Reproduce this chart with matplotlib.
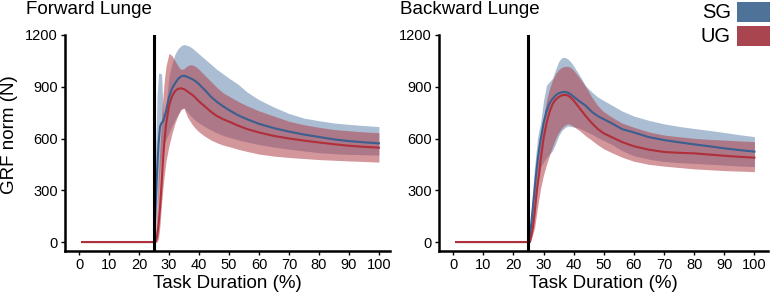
import matplotlib
matplotlib.use("Agg")
import matplotlib.pyplot as plt
from matplotlib.patches import Rectangle

plt.rcParams['font.family'] = ['Liberation Sans', 'DejaVu Sans']

# ---------------- data ----------------
x = [1, 25, 25.5, 26, 26.5, 27, 27.5, 28, 28.5, 29, 30, 31, 32, 33, 34, 35, 36, 37, 38, 39, 40,
     42, 44, 46, 48, 50, 53, 56, 60, 65, 70, 75, 80, 85, 90, 95, 100]

# Forward lunge
fwd_sg_mean = [0, 0, 200, 400, 570, 670, 690, 700, 725, 760, 840, 890, 920, 945, 960, 964, 958, 950, 942, 930, 915,
               880, 842, 812, 787, 765, 735, 712, 685, 660, 640, 623, 609, 595, 585, 578, 572]
fwd_sg_upper = [0, 0, 500, 850, 978, 978, 975, 760, 710, 800, 960, 1035, 1090, 1120, 1138, 1145, 1140, 1133, 1120, 1105, 1090,
                1060, 1030, 1000, 975, 950, 915, 870, 825, 782, 745, 718, 703, 690, 682, 675, 669]
fwd_sg_lower = [0, 0, 80, 200, 320, 430, 500, 550, 575, 595, 635, 675, 710, 740, 770, 780, 755, 735, 717, 703, 690,
                668, 649, 632, 618, 607, 592, 580, 565, 550, 538, 528, 518, 512, 508, 506, 504]
fwd_ug_mean = [0, 0, 0, 30, 100, 200, 330, 480, 590, 680, 790, 845, 875, 888, 891, 886, 875, 862, 850, 833, 815,
               785, 755, 730, 712, 698, 675, 655, 635, 615, 600, 588, 577, 567, 558, 552, 547]
fwd_ug_upper = [0, 0, 50, 200, 400, 560, 720, 850, 950, 1020, 1094, 1080, 1050, 1020, 1000, 1005, 1020, 1028, 1025, 1015, 1000,
                965, 930, 895, 865, 845, 815, 790, 760, 730, 700, 680, 665, 652, 645, 638, 634]
fwd_ug_lower = [0, 0, 0, 0, 20, 100, 220, 320, 400, 470, 560, 630, 690, 735, 768, 775, 730, 700, 675, 655, 638,
                612, 591, 575, 562, 553, 538, 525, 510, 498, 490, 484, 478, 474, 470, 467, 463]

# Backward lunge
bwd_sg_mean = [0, 0, 30, 120, 210, 300, 390, 470, 535, 591, 690, 760, 805, 830, 850, 862, 868, 870, 866, 856, 842,
               815, 790, 755, 730, 712, 685, 655, 635, 608, 591, 578, 566, 555, 543, 533, 524]
bwd_sg_upper = [0, 0, 80, 200, 320, 430, 520, 600, 650, 688, 820, 910, 930, 950, 1000, 1045, 1068, 1071, 1062, 1045, 1020,
                965, 905, 870, 840, 820, 790, 760, 730, 705, 685, 670, 658, 647, 635, 622, 611]
bwd_sg_lower = [0, 0, 10, 50, 110, 180, 250, 320, 380, 430, 465, 490, 510, 530, 570, 615, 645, 662, 672, 670, 666,
                659, 642, 625, 605, 588, 562, 530, 500, 480, 467, 460, 456, 451, 446, 441, 437]
bwd_ug_mean = [0, 0, 0, 40, 90, 160, 250, 330, 390, 470, 600, 690, 755, 800, 825, 840, 850, 853, 850, 838, 820,
               775, 730, 690, 655, 630, 605, 580, 555, 535, 522, 517, 514, 507, 500, 494, 489]
bwd_ug_upper = [0, 0, 40, 140, 240, 330, 420, 500, 550, 591, 720, 823, 890, 940, 975, 998, 1012, 1018, 1018, 1012, 995,
                950, 900, 840, 790, 755, 720, 690, 665, 638, 620, 610, 601, 595, 591, 586, 582]
bwd_ug_lower = [0, 0, 0, 20, 50, 80, 140, 200, 255, 310, 390, 450, 505, 555, 600, 635, 660, 677, 686, 680, 670,
                645, 615, 590, 563, 540, 515, 492, 468, 450, 440, 432, 424, 419, 414, 411, 408]

titles = ["Forward Lunge", "Backward Lunge"]
groups = ["SG", "UG"]
yticks = [0, 300, 600, 900, 1200]
xticks = [0, 10, 20, 30, 40, 50, 60, 70, 80, 90, 100]

# ---------------- style ----------------
SG_BAND = "#567ca6"
UG_BAND = "#b0404a"
SG_LINE = "#3a5f90"
UG_LINE = "#b02f3a"
SG_BOX = "#4e7298"
UG_BOX = "#a8454e"

W, H = 770, 298
fig = plt.figure(figsize=(W / 100, H / 100), dpi=100)

panels = [
    (fwd_sg_mean, fwd_sg_upper, fwd_sg_lower, fwd_ug_mean, fwd_ug_upper, fwd_ug_lower),
    (bwd_sg_mean, bwd_sg_upper, bwd_sg_lower, bwd_ug_mean, bwd_ug_upper, bwd_ug_lower),
]
lefts = [65, 439]
rights = [390, 768]
top_px, bot_px = 35, 251

for i, (sm, su, sl, um, uu, ul) in enumerate(panels):
    ax = fig.add_axes([lefts[i] / W, 1 - bot_px / H, (rights[i] - lefts[i]) / W, (bot_px - top_px) / H])
    ax.fill_between(x, sl, su, color=SG_BAND, alpha=0.5, lw=0)
    ax.plot(x, sm, color=SG_LINE, lw=1.5)
    ax.fill_between(x, ul, uu, color=UG_BAND, alpha=0.55, lw=0)
    ax.plot(x, um, color=UG_LINE, lw=1.5)
    ax.axvline(25, color="black", lw=2.2)
    ax.set_xlim(-4.7, 104.5 if i == 1 else 103.7)
    ax.set_ylim(-52, 1200)
    ax.set_xticks(xticks)
    ax.set_yticks(yticks)
    ax.tick_params(labelsize=10.5, length=3, width=1, pad=2)
    for s in ["top", "right"]:
        ax.spines[s].set_visible(False)
    for s in ["left", "bottom"]:
        ax.spines[s].set_linewidth(1.8)
    ax.set_xlabel("Task Duration (%)", fontsize=13.5, labelpad=2)
    fig.text((lefts[i] - 39) / W, 1 - 10 / H, titles[i], fontsize=13.5, ha="left", va="center")

fig.text(10 / W, 1 - 135 / H, "GRF norm (N)", fontsize=13.5, rotation=90, ha="center", va="center")

# legend
for j, (lab, col) in enumerate(zip(groups, [SG_BOX, UG_BOX])):
    y0 = [2, 26][j]
    fig.patches.append(Rectangle((737 / W, 1 - (y0 + 20) / H), 33 / W, 20 / H,
                                 transform=fig.transFigure, facecolor=col, edgecolor="none"))
    fig.text(731 / W, 1 - (y0 + 10) / H, lab, fontsize=14.5, ha="right", va="center")

fig.savefig("out.png", dpi=100)
